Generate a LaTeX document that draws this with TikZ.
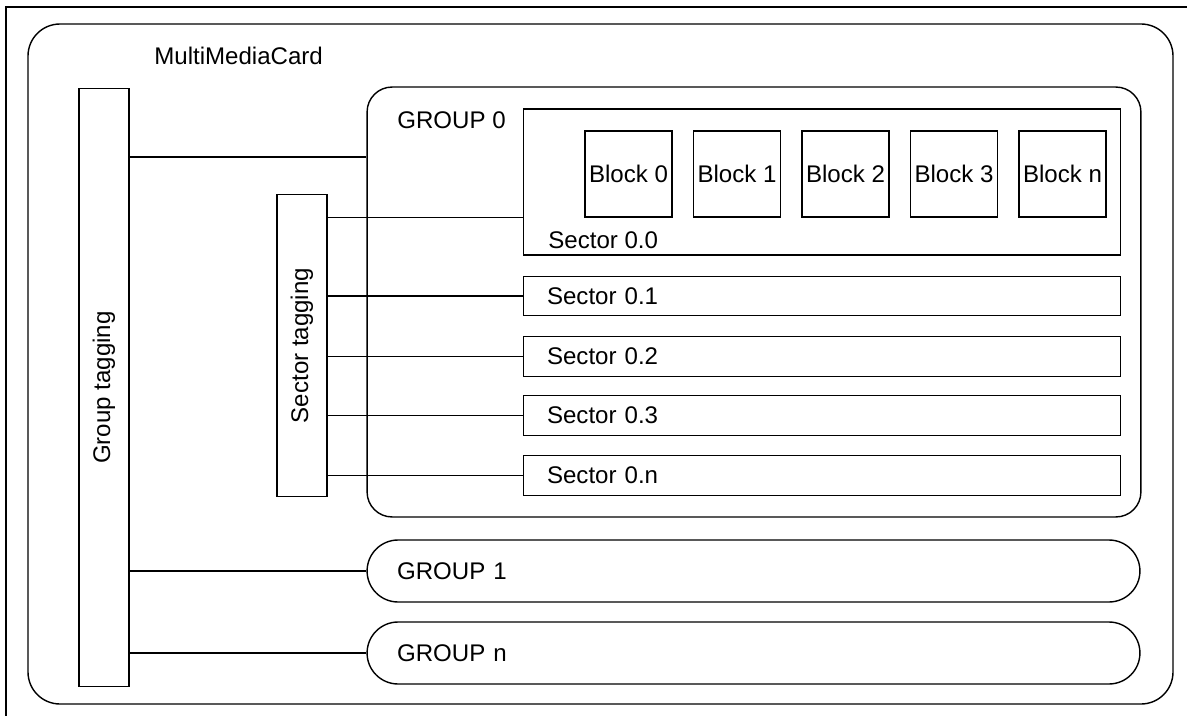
\documentclass[tikz,border=0pt]{standalone}
\usepackage{fontspec}
\setmainfont{Liberation Sans}
\usetikzlibrary{calc}

\tikzset{
  wire/.style={line width=0.6pt},
  tagbox/.style={draw, line width=0.6pt, minimum width=1cm, inner sep=0pt},
  blockbox/.style={draw, line width=0.6pt, minimum width=1.74cm, minimum height=1.72cm, inner sep=0pt},
  sectorbox/.style={draw, line width=0.6pt, minimum height=0.79cm, text width=11cm,
    inner xsep=0.48cm, inner ysep=0pt, align=left},
  pillbox/.style={draw, line width=0.8pt, rounded corners=0.62cm, minimum height=1.24cm,
    text width=14.26cm, inner xsep=0.6cm, inner ysep=0pt, align=left},
}

\begin{document}
\begin{tikzpicture}[x=0.02cm, y=-0.02cm,
    every node/.style={font=\fontsize{13.7}{16}\selectfont}]
			%%%%% START %%%%%
			\useasboundingbox (0,0) rectangle (1187,716);
			
			% page frame
			\draw[wire] (6,716) -- (6,7) -- (1187,7);
			
			% the card
			\draw[line width=0.8pt, rounded corners=0.64cm] (28,24) rectangle (1173,704);
			\node[anchor=west, inner sep=0pt] (mmc) at (154,56) {MultiMediaCard};
			
			% tagging bars
			\node[tagbox, minimum height=11.98cm] (gtag) at (104,387.5) {};
			\node[rotate=90] (gtaglbl) at (gtag) {Group tagging};
			\node[tagbox, minimum height=6.06cm] (stag) at (302,345.5) {};
			\node[rotate=90] (staglbl) at (stag) {Sector tagging};
			
			% group 0
			\node[draw, line width=0.8pt, rounded corners=0.5cm, minimum width=15.48cm,
			  minimum height=8.6cm] (grp0) at (754,302) {};
			\node[anchor=west, inner sep=0pt] (grp0lbl) at (397,120) {GROUP 0};
			
			\node[draw, line width=0.6pt, minimum width=11.96cm, minimum height=2.92cm] (sec00) at (822,182) {};
			\node[anchor=west, inner sep=0pt] (sec00lbl) at (548,240) {Sector 0.0};
			
			\foreach \i/\n in {0/0,1/1,2/2,3/3,4/n}
			  \node[blockbox] (blk\i) at (628.5+108.5*\i,174) {Block \n};
			
			\node[sectorbox] (sec01) at (822,296) {Sector 0.1};
			\node[sectorbox] (sec02) at (822,356.5) {Sector 0.2};
			\node[sectorbox] (sec03) at (822,415.5) {Sector 0.3};
			\node[sectorbox] (sec0n) at (822,475.5) {Sector 0.n};
			
			% other groups
			\node[pillbox] (grp1) at (753.5,571) {GROUP 1};
			\node[pillbox] (grpn) at (753.5,653) {GROUP n};
			
			% group tagging wires
			\coordinate (grp0tap) at (grp0.west |- 0,157);
			\draw[wire] (gtag.east |- grp0tap) -- (grp0tap);
			\draw[wire] (gtag.east |- grp1.west) -- (grp1.west);
			\draw[wire] (gtag.east |- grpn.west) -- (grpn.west);
			
			% sector tagging wires
			\draw[wire] (stag.east |- blk0.south) -- (sec00.west |- blk0.south);
			\foreach \s in {sec01,sec02,sec03,sec0n}
			  \draw[wire] (stag.east |- \s.west) -- (\s.west);
			
			%%%%% END %%%%%
\end{tikzpicture}
\end{document}
